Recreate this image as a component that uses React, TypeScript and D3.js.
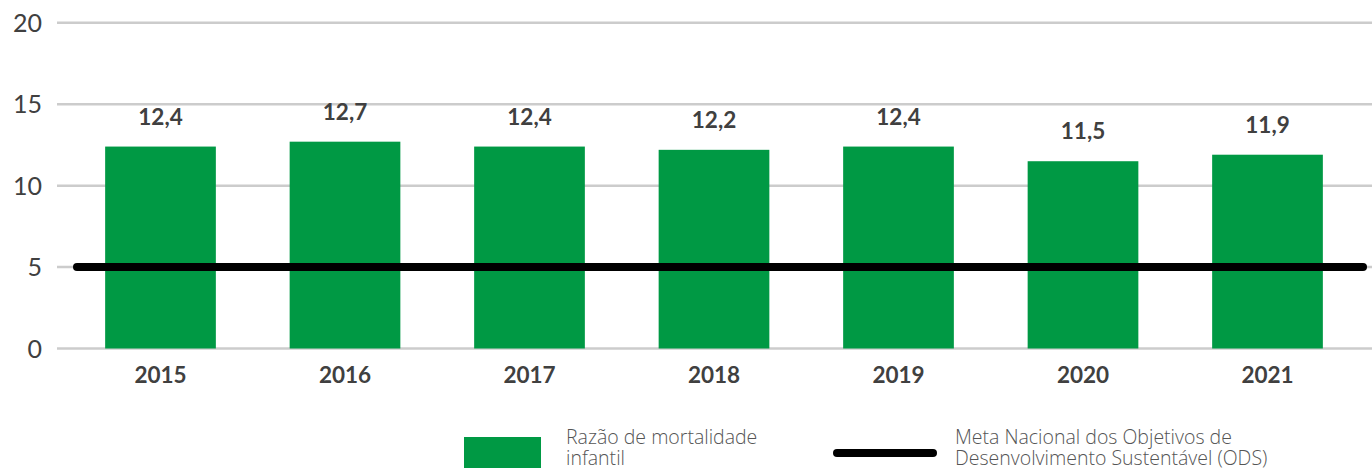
import React from "react";
import * as d3 from "d3";

const years = ["2015", "2016", "2017", "2018", "2019", "2020", "2021"];
const rates = [12.4, 12.7, 12.4, 12.2, 12.4, 11.5, 11.9];
const target = 5;
const yTicks = [0, 5, 10, 15, 20];
const legendBar = ["Razão de mortalidade", "infantil"];
const legendLine = ["Meta Nacional dos Objetivos de", "Desenvolvimento Sustentável (ODS)"];

const W = 1372;
const H = 470;
const GREEN = "#009944";
const TEXT = "#404040";
const FONT = "Lato, 'Open Sans', sans-serif";

export default function App() {
  const x = d3.scaleBand<string>().domain(years).range([68.25, 1359.75]).paddingInner(0.4).paddingOuter(0.2);
  const y = d3.scaleLinear().domain([0, 20]).range([348.5, 22.8]);
  const fmt = (v: number) => v.toFixed(1).replace(".", ",");

  const legendText = (lines: string[], x0: number) => (
    <text x={x0} y={444} fontSize={19.5} fontWeight={300} fill="#555" fontFamily="'Open Sans', sans-serif">
      {lines.map((s, i) => (
        <tspan key={s} x={x0} dy={i === 0 ? 0 : 20.5}>
          {s}
        </tspan>
      ))}
    </text>
  );

  return (
    <svg width={W} height={H} style={{ position: "absolute", left: 0, top: 0, background: "#fff" }} fontFamily={FONT}>
      {yTicks.map((t) => (
        <g key={t}>
          <line x1={57} x2={W} y1={y(t)} y2={y(t)} stroke="#cccccc" strokeWidth={2.5} />
          <text x={42} y={y(t)} dy="0.36em" textAnchor="end" fontSize={25} fill={TEXT}>
            {t}
          </text>
        </g>
      ))}
      {years.map((yr, i) => (
        <g key={yr}>
          <rect x={x(yr)} y={y(rates[i])} width={x.bandwidth()} height={y(0) - y(rates[i])} fill={GREEN} />
          <text x={(x(yr) as number) + x.bandwidth() / 2} y={y(rates[i]) - 22} textAnchor="middle" fontSize={22.5} fontWeight={700} fill={TEXT}>
            {fmt(rates[i])}
          </text>
          <text x={(x(yr) as number) + x.bandwidth() / 2} y={383} textAnchor="middle" fontSize={22.5} fontWeight={700} fill={TEXT}>
            {yr}
          </text>
        </g>
      ))}
      <line x1={77} x2={1363} y1={y(target)} y2={y(target)} stroke="#000" strokeWidth={8} strokeLinecap="round" />
      <rect x={464} y={437} width={77} height={31} fill={GREEN} />
      {legendText(legendBar, 566)}
      <line x1={837} x2={933} y1={453} y2={453} stroke="#000" strokeWidth={8} strokeLinecap="round" />
      {legendText(legendLine, 955)}
    </svg>
  );
}
